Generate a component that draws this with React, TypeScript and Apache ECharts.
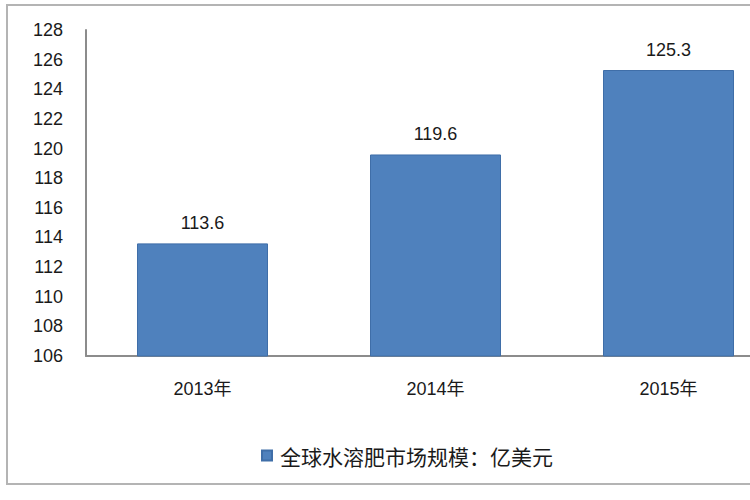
import React, { useEffect, useRef } from "react";
import * as echarts from "echarts";

const categories = ["2013年", "2014年", "2015年"];
const values = [113.6, 119.6, 125.3];
const seriesName = "全球水溶肥市场规模：亿美元";
const yMin = 106;
const yMax = 128;
const yInterval = 2;

export default function App() {
  const ref = useRef<HTMLDivElement>(null);
  useEffect(() => {
    if (!ref.current) return;
    const chart = echarts.init(ref.current, null, { renderer: "svg" });
    const font = "'Liberation Sans', Arial, sans-serif";
    chart.setOption({
      animation: false,
      backgroundColor: "#ffffff",
      textStyle: { fontFamily: font },
      graphic: [
        {
          type: "rect",
          shape: { x: 7, y: 5, width: 820, height: 479 },
          style: { fill: "none", stroke: "#b4b4b4", lineWidth: 2 },
          z: 100,
        },
      ],
      grid: { left: 86, top: 30, right: 15, bottom: 144, containLabel: false },
      legend: {
        left: 256,
        top: 440,
        itemWidth: 10,
        itemHeight: 10,
        icon: "rect",
        itemGap: 10,
        textStyle: {
          fontSize: 21,
          color: "#1a1a1a",
          fontFamily: "'Noto Sans CJK SC', sans-serif",
          padding: [0, 0, 0, 3],
        },
        data: [seriesName],
      },
      xAxis: {
        type: "category",
        data: categories,
        axisLine: { show: true, lineStyle: { color: "#8c8c8c", width: 2 } },
        axisTick: { show: false },
        axisLabel: {
          fontSize: 18,
          color: "#1a1a1a",
          margin: 24,
          fontFamily: "'Liberation Sans', 'Noto Sans CJK SC', sans-serif",
        },
      },
      yAxis: {
        type: "value",
        min: yMin,
        max: yMax,
        interval: yInterval,
        axisLine: { show: true, lineStyle: { color: "#8c8c8c", width: 2 } },
        axisTick: { show: false },
        splitLine: { show: false },
        axisLabel: { fontSize: 18, color: "#1a1a1a", margin: 23 },
      },
      series: [
        {
          name: seriesName,
          type: "bar",
          data: values,
          barWidth: 131,
          itemStyle: { color: "#4f81bd", borderColor: "#3f6ea8", borderWidth: 1 },
          label: {
            show: true,
            position: "top",
            distance: 11,
            fontSize: 18,
            color: "#1a1a1a",
            formatter: (p: any) => p.value.toFixed(1),
          },
        },
      ],
    });
    return () => chart.dispose();
  }, []);
  return (
    <div
      style={{
        position: "fixed",
        left: 0,
        top: 0,
        width: 750,
        height: 500,
        overflow: "hidden",
        background: "#fff",
      }}
    >
      <div ref={ref} style={{ width: 800, height: 500 }} />
    </div>
  );
}
